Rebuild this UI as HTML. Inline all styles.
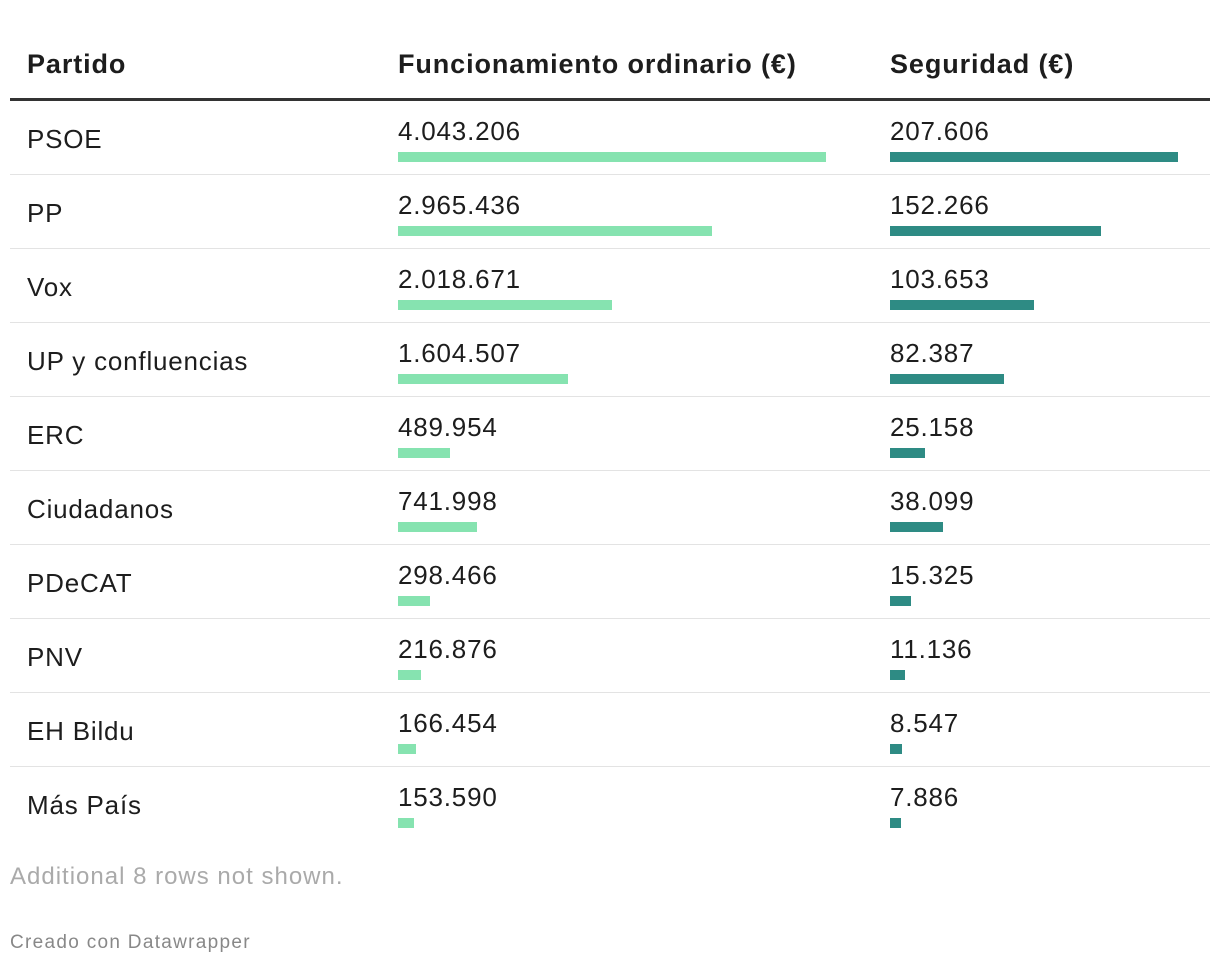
<!DOCTYPE html>
<html><head><meta charset="utf-8">
<style>
body{margin:0;background:#fff;font-family:"Liberation Sans",sans-serif;color:#1d1d1d;}
#wrap{position:relative;width:1220px;height:966px;overflow:hidden;}
.h{position:absolute;top:49px;font-weight:bold;font-size:27px;color:#1d1d1d;letter-spacing:0.9px;}
.line{position:absolute;left:10px;width:1200px;height:1px;background:#e3e3e3;}
.t{position:absolute;font-size:26px;white-space:nowrap;letter-spacing:0.8px;}
.bar{position:absolute;height:10px;}
</style></head><body>
<div id="wrap">
<div class="h" style="left:27px">Partido</div>
<div class="h" style="left:398px">Funcionamiento ordinario (€)</div>
<div class="h" style="left:890px">Seguridad (€)</div>
<div style="position:absolute;left:10px;top:98px;width:1200px;height:3px;background:#333"></div>
<div id="rows"></div>
<div class="t" style="left:10px;top:863px;font-size:24px;color:#aaa;letter-spacing:1px">Additional 8 rows not shown.</div>
<div class="t" style="left:10px;top:932px;font-size:19px;color:#888;letter-spacing:1.3px">Creado con Datawrapper</div>
</div>
<script>
const parties=["PSOE","PP","Vox","UP y confluencias","ERC","Ciudadanos","PDeCAT","PNV","EH Bildu","Más País"];
const funcionamiento=[4043206,2965436,2018671,1604507,489954,741998,298466,216876,166454,153590];
const seguridad=[207606,152266,103653,82387,25158,38099,15325,11136,8547,7886];
const rows=document.getElementById('rows');
const fmt=v=>String(v).replace(/\B(?=(\d{3})+(?!\d))/g,'.');
const fMax=Math.max(...funcionamiento), sMax=Math.max(...seguridad);
const fX=v=>v/fMax*428, sX=v=>v/sMax*288;
function add(cls,style,text,name){
  const d=document.createElement('div');d.className=cls;d.style.cssText=style;
  if(text!==null)d.textContent=text;
  
  
  rows.appendChild(d);
}
parties.forEach((p,i)=>{
  const top=101+i*74;
  add('t',`left:27px;top:${top+23}px`,p,'party-name');
  add('t',`left:398px;top:${top+15}px`,fmt(funcionamiento[i]),'funcionamiento-value');
  add('bar',`left:398px;top:${top+51}px;width:${fX(funcionamiento[i])}px;background:#86e3b0`,null,'funcionamiento-bar');
  add('t',`left:890px;top:${top+15}px`,fmt(seguridad[i]),'seguridad-value');
  add('bar',`left:890px;top:${top+51}px;width:${sX(seguridad[i])}px;background:#2e8b84`,null,'seguridad-bar');
  if(i<parties.length-1) add('line',`top:${top+73}px`,null,'row-divider');
});
</script>
</body></html>
